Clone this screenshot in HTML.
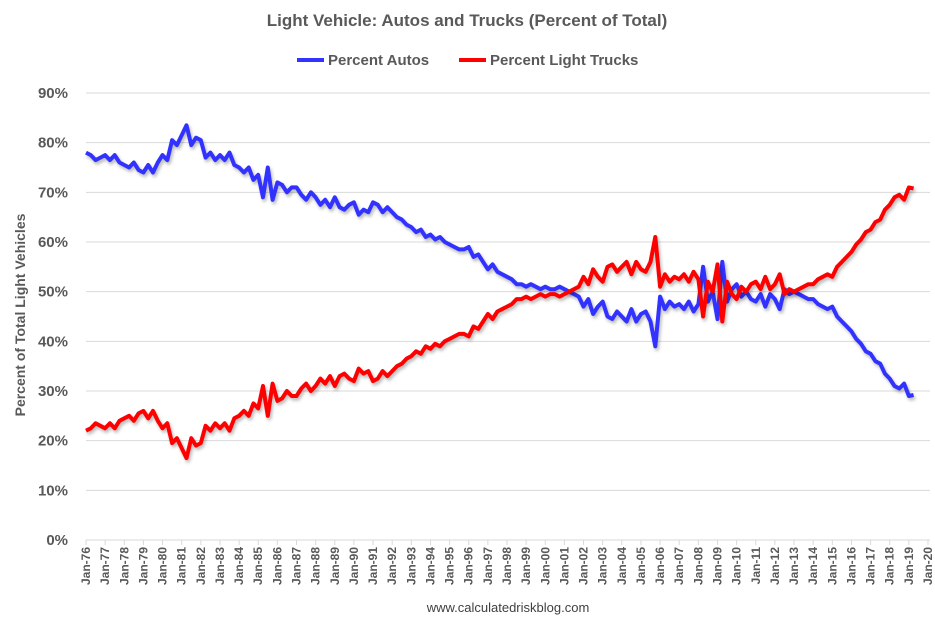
<!DOCTYPE html>
<html><head><meta charset="utf-8"><style>
body{margin:0;background:#fff;}
svg{display:block;font-family:"Liberation Sans",sans-serif;}
</style></head><body>
<svg id="chart" width="935" height="622" viewBox="0 0 935 622" xmlns="http://www.w3.org/2000/svg">
<defs><filter id="sh" x="-5%" y="-5%" width="110%" height="115%"><feDropShadow dx="1.5" dy="2.5" stdDeviation="1.5" flood-color="#000" flood-opacity="0.28"/></filter></defs>
<text x="467" y="26" text-anchor="middle" font-size="17" font-weight="bold" fill="#595959">Light Vehicle: Autos and Trucks (Percent of Total)</text>
<g>
<line x1="297" y1="60" x2="324" y2="60" stroke="#3333ff" stroke-width="4"/>
<text x="328" y="65" font-size="15" font-weight="bold" fill="#595959">Percent Autos</text>
<line x1="459" y1="60" x2="486" y2="60" stroke="#ff0000" stroke-width="4"/>
<text x="490" y="65" font-size="15" font-weight="bold" fill="#595959">Percent Light Trucks</text>
</g>
<text transform="translate(25,315) rotate(-90)" text-anchor="middle" font-size="14" font-weight="bold" fill="#595959">Percent of Total Light Vehicles</text>
<g id="grid"></g><g id="ylab"></g><g id="xlab"></g><g id="series"></g>
<text x="508" y="612" text-anchor="middle" font-size="13" fill="#404040">www.calculatedriskblog.com</text>
</svg>
<script>
const yTicks=[0,10,20,30,40,50,60,70,80,90];
const xYears=[];for(let y=1976;y<=2020;y++)xYears.push(y);
const startYear=1976;
const autos=[78,77.5,76.5,77,77.5,76.5,77.5,76,75.5,75,76,74.5,74,75.5,74,76,77.5,76.5,80.5,79.5,81.5,83.5,79.5,81,80.5,77,78,76.5,77.5,76.5,78,75.5,75,74,75,72.5,73.5,69,75,68.5,72,71.5,70,71,71,69.5,68.5,70,69,67.5,68.5,67,69,67,66.5,67.5,68,65.5,66.5,66,68,67.5,66,67,66,65,64.5,63.5,63,62,62.5,61,61.5,60.5,61,60,59.5,59,58.5,58.5,59,57,57.5,56,54.5,55.5,54,53.5,53,52.5,51.5,51.5,51,51.5,51,50.5,51,50.5,50.5,51,50.5,50,49.5,49,47,48.5,45.5,47,48,45,44.5,46,45,44,46.5,44,45.5,46,44,39,49,46.5,48,47,47.5,46.5,48,46,47.5,55,48,50,44.5,56,48,50.5,51.5,49,50,48.5,48,49.5,47,49.5,48.5,46.5,50.5,49.5,50,49.5,49,48.5,48.5,47.5,47,46.5,47,45,44,43,42,40.5,39.5,38,37.5,36,35.5,33.5,32.5,31,30.5,31.5,29,29.2];
const trucks=[22,22.5,23.5,23,22.5,23.5,22.5,24,24.5,25,24,25.5,26,24.5,26,24,22.5,23.5,19.5,20.5,18.5,16.5,20.5,19,19.5,23,22,23.5,22.5,23.5,22,24.5,25,26,25,27.5,26.5,31,25,31.5,28,28.5,30,29,29,30.5,31.5,30,31,32.5,31.5,33,31,33,33.5,32.5,32,34.5,33.5,34,32,32.5,34,33,34,35,35.5,36.5,37,38,37.5,39,38.5,39.5,39,40,40.5,41,41.5,41.5,41,43,42.5,44,45.5,44.5,46,46.5,47,47.5,48.5,48.5,49,48.5,49,49.5,49,49.5,49.5,49,49.5,50,50.5,51,53,51.5,54.5,53,52,55,55.5,54,55,56,53.5,56,54.5,54,56,61,51,53.5,52,53,52.5,53.5,52,54,52.5,45,52,50,55.5,44,52,49.5,48.5,51,50,51.5,52,50.5,53,50.5,51.5,53.5,49.5,50.5,50,50.5,51,51.5,51.5,52.5,53,53.5,53,55,56,57,58,59.5,60.5,62,62.5,64,64.5,66.5,67.5,69,69.5,68.5,71,70.8];
const X0=86,X1=928,Y0=540,Y90=93;
const xs=yr=>X0+(yr-startYear)*(X1-X0)/44;
const ys=v=>Y0-v*(Y0-Y90)/90;
const NS="http://www.w3.org/2000/svg";
function mk(t,a,p){const e=document.createElementNS(NS,t);for(const k in a)e.setAttribute(k,a[k]);p.appendChild(e);return e;}
const grid=document.getElementById('grid'),ylab=document.getElementById('ylab'),xlab=document.getElementById('xlab'),ser=document.getElementById('series');
yTicks.forEach(v=>{
  const l=mk('line',{x1:X0,x2:930,y1:ys(v),y2:ys(v),stroke:'#d9d9d9','stroke-width':1},grid);
  
  
  const t=mk('text',{x:68,y:ys(v)+5,'text-anchor':'end','font-size':15,'font-weight':'bold',fill:'#595959'},ylab);
  t.textContent=v+'%';
  
  
});
xYears.forEach(yr=>{
  const x=xs(yr);
  const tk=mk('line',{x1:x,x2:x,y1:Y0,y2:Y0+5,stroke:'#d9d9d9'},grid);
  
  
  const t=mk('text',{transform:`translate(${x+4},${Y0+7}) rotate(-90)`,'text-anchor':'end','font-size':12,'font-weight':'bold',fill:'#595959'},xlab);
  t.textContent='Jan-'+String(yr%100).padStart(2,'0');
  
  
});
function line(arr,color,name){
  const d=arr.map((v,i)=>(i?'L':'M')+xs(startYear+i*0.25).toFixed(1)+' '+ys(v).toFixed(1)).join(' ');
  const p=mk('path',{d:d,fill:'none',stroke:color,'stroke-width':4,'stroke-linejoin':'round',filter:'url(#sh)'},ser);
  
  
}
line(autos,'#3333ff','series-percent-autos');
line(trucks,'#ff0000','series-percent-light-trucks');
</script>
</body></html>
